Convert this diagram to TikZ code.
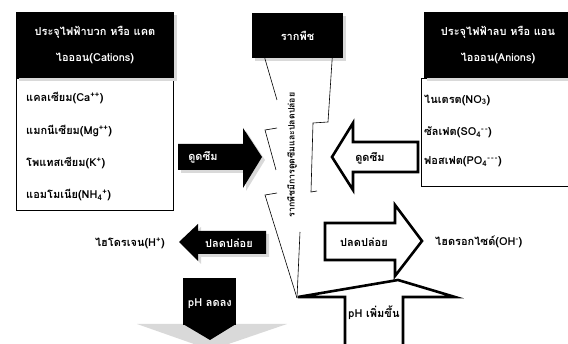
\documentclass[tikz,border=0pt]{standalone}
\usepackage{fontspec}
\newfontfamily\thaifont[Script=Thai]{Loma}
\usetikzlibrary{shadows}

\begin{document}
\begin{tikzpicture}[x = 1pt, y = -1pt, font = \thaifont\bfseries\fontsize{11}{12.5}\selectfont,
	shade/.style = {drop shadow = {shadow xshift = 3pt, shadow yshift = -3pt, fill = black!15, opacity = 1}},
	header/.style = {shade, fill = black, text = white, align = center, inner sep = 0pt},
	listbox/.style = {draw = black, fill = white, line width = 0.6pt},
	darkarrow/.style = {shade, fill = black},
	openarrow/.style = {draw = black, fill = white, line width = 2.6pt, line join = miter},
	rootline/.style = {draw = black, line width = 0.6pt},
	darklabel/.style = {text = white, inner sep = 1pt},
	plainlabel/.style = {inner sep = 1pt}]

	% Definitions

	\def\gap{14pt}		% Extra space between header lines

	% Frame

	\useasboundingbox (0, 0) rectangle (568, 344);

	% Draw list boxes

	\draw [listbox] (16, 78) rectangle (173, 210);
	\draw [listbox] (421, 78) rectangle (572, 186);

	% Draw headers

	\node [header, minimum width = 158pt, minimum height = 66pt] (cations) at (95, 45)
		{ประจุไฟฟ้าบวก หรือ แคต\\[\gap]ไอออน(Cations)};
	\node [header, minimum width = 148pt, minimum height = 66pt] (anions) at (498, 45)
		{ประจุไฟฟ้าลบ หรือ แอน\\[\gap]ไอออน(Anions)};
	\node [header, minimum width = 91pt, minimum height = 45pt] (root) at (297.5, 35.5) {รากพืช};

	% Draw list items

	\foreach \y/\s [count = \i] in {98/{แคลเซียม(Ca\textsuperscript{++})},
			131/{แมกนีเซียม(Mg\textsuperscript{++})},
			163/{โพแทสเซียม(K\textsuperscript{+})},
			195/{แอมโมเนีย(NH\textsubscript{4}\textsuperscript{+})}}
		\node [plainlabel, anchor = west] (cat\i) at (25, \y) {\s};

	\foreach \y/\s [count = \i] in {100/{ไนเตรต(NO\textsubscript{3})},
			132/{ซัลเฟต(SO\textsubscript{4}\textsuperscript{-\,-})},
			162/{ฟอสเฟต(PO\textsubscript{4}\textsuperscript{-\,-\,-})}}
		\node [plainlabel, anchor = west] (an\i) at (423, \y) {\s};

	% Draw root outline

	\draw [rootline] ([xshift = 13pt] root.south west) -- (277, 100);
	\draw [rootline] (277, 128) -- (265, 130) -- (276, 170);
	\draw [rootline] (277, 193) -- (265, 195) -- (297, 298);
	\draw [rootline] ([xshift = -11pt] root.south east) -- (328, 122) -- (313, 123) -- (311, 192) -- (317, 191);
	\draw [rootline] (300, 232) -- (297, 298);

	\node [rotate = 90, inner sep = 0pt, font = \thaifont\bfseries\fontsize{8.8}{10}\selectfont] (rootnote) at (292, 155)
		{รากพืชมีการดูดซึมและปลดปล่อย};

	% Draw absorb arrows

	\path [darkarrow] (178, 144) -- (243, 144) -- (243, 128) -- (262, 157) -- (243, 188) -- (243, 170) -- (178, 170) -- cycle;
	\node [darklabel] (absorbL) at (203, 157) {ดูดซึม};

	\draw [openarrow] (418, 142) -- (353, 142) -- (353, 123) -- (332, 157) -- (353, 190) -- (353, 172) -- (418, 172) -- cycle;
	\node [plainlabel] (absorbR) at (370, 158) {ดูดซึม};

	% Draw release arrows

	\path [darkarrow] (266, 231) -- (198, 231) -- (198, 224) -- (179, 242) -- (198, 261) -- (198, 254) -- (266, 254) -- cycle;
	\node [darklabel] (releaseL) at (229, 243) {ปลดปล่อย};
	\node [plainlabel, anchor = east] (hydrogen) at (166, 243) {ไฮโดรเจน(H\textsuperscript{+})};

	\draw [openarrow] (325, 223) -- (395, 223) -- (395, 205) -- (422, 241) -- (395, 276) -- (395, 260) -- (325, 260) -- cycle;
	\node [plainlabel] (releaseR) at (364, 242) {ปลดปล่อย};
	\node [plainlabel, anchor = west] (hydroxide) at (434, 242) {ไฮดรอกไซด์(OH\textsuperscript{-})};

	% Draw pH arrows

	\draw [openarrow] (345, 352) -- (345, 297) -- (298, 297) -- (398, 280) -- (455, 297) -- (403, 297) -- (403, 352);
	\node [plainlabel] (phup) at (374, 313) {pH เพิ่มขึ้น};

	\fill [black!15] (137, 324) -- (287, 324) -- (211, 350) -- cycle;
	\fill [black] (183, 278) rectangle (236, 325);
	\fill [black] (183, 324) -- (236, 324) -- (210, 340) -- cycle;
	\node [darklabel] (phdown) at (210, 304) {pH ลดลง};

\end{tikzpicture}
\end{document}
